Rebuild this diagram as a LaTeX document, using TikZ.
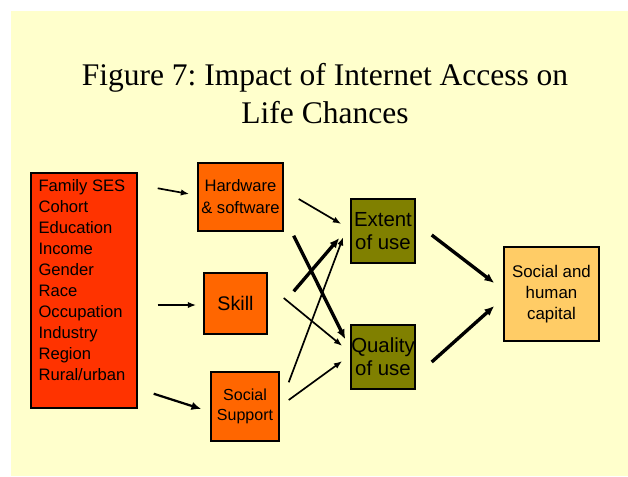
\documentclass[tikz,border=0pt]{standalone}
\usepackage{fontspec}
\setmainfont{Liberation Serif}
\setsansfont{Liberation Sans}
\usetikzlibrary{arrows.meta}
\frenchspacing

\definecolor{bgyellow}{HTML}{FFFFCC}
\definecolor{boxred}{HTML}{FF3300}
\definecolor{boxorange}{HTML}{FF6600}
\definecolor{boxolive}{HTML}{808000}
\definecolor{boxtan}{HTML}{FFCC66}

\begin{document}
\begin{tikzpicture}[x=0.025cm,y=-0.025cm,
    box/.style={draw=black, line width=1pt, inner sep=0pt, align=center, font=\sffamily},
    conn/.style={line width=1.2pt, -{Latex[length=6pt,width=4.5pt]}},
    boldconn/.style={line width=2.4pt, -{Latex[length=7pt,width=6pt]}}]
    \useasboundingbox (0,0) rectangle (628,476);
    \fill[bgyellow] (11,11) rectangle (628,476);
    \node[font=\fontsize{22.4}{27}\selectfont, align=center, inner sep=0pt, anchor=north] (title) at (325,63) {Figure 7: Impact of Internet Access on\\Life Chances};
    % boxes
    \node[box, fill=boxred, minimum width=2.65cm, minimum height=5.875cm] (fam) at (84,290.5) {};
    \node[anchor=north west, inner sep=0pt, align=left, font=\sffamily\fontsize{11.8}{14.9}\selectfont] (famlist) at ([shift={(8,7)}]fam.north west) {Family SES\\Cohort\\Education\\Income\\Gender\\Race\\Occupation\\Industry\\Region\\Rural/urban};
    \node[box, fill=boxorange, minimum width=2.125cm, minimum height=1.7cm, font=\sffamily\fontsize{11.8}{15.6}\selectfont] (hw) at (240.5,197) {Hardware\\\& software};
    \node[box, fill=boxorange, minimum width=1.575cm, minimum height=1.525cm, font=\sffamily\fontsize{14}{16}\selectfont] (sk) at (235.5,303.5) {Skill};
    \node[box, fill=boxorange, minimum width=1.7cm, minimum height=1.725cm, font=\sffamily\fontsize{11.4}{14.2}\selectfont] (ss) at (245,406.5) {Social\\Support};
    \node[box, fill=boxolive, minimum width=1.6cm, minimum height=1.6cm, font=\sffamily\fontsize{14.5}{16.4}\selectfont] (ex) at (383,231) {Extent\\of use};
    \node[box, fill=boxolive, minimum width=1.6cm, minimum height=1.6cm, font=\sffamily\fontsize{14.5}{16.4}\selectfont] (qu) at (383,357) {Quality\\of use};
    \node[box, fill=boxtan, minimum width=2.375cm, minimum height=2.35cm, font=\sffamily\fontsize{12}{15}\selectfont] (cap) at (551.5,294) {Social and\\human\\capital};
    % arrows
    \draw[conn] ([shift={(20,16)}]fam.north east) -- ([shift={(-8,-3)}]hw.west);
    \draw[conn] ([shift={(20,14.5)}]fam.east) -- ([shift={(-7,1.5)}]sk.west);
    \draw[boldconn, line width=1.6pt] ([shift={(16,-15)}]fam.south east) -- ([shift={(-9,2.5)}]ss.west);
    \draw[conn] ([shift={(15,2)}]hw.east) -- ([shift={(-9,-7)}]ex.west);
    \draw[boldconn] ([shift={(10,4)}]hw.south east) -- ([shift={(-5,15)}]qu.north west);
    \draw[boldconn] ([shift={(26,19)}]sk.north east) -- ([shift={(-11,7)}]ex.west);
    \draw[conn] ([shift={(16,-5.5)}]sk.east) -- ([shift={(-8,-11)}]qu.west);
    \draw[conn] ([shift={(9,11)}]ss.north east) -- ([shift={(-7,6)}]ex.west);
    \draw[conn] ([shift={(9,-6.5)}]ss.east) -- ([shift={(-8,4)}]qu.west);
    \draw[boldconn] ([shift={(16,4)}]ex.east) -- ([shift={(-9,-11)}]cap.west);
    \draw[boldconn] ([shift={(16,5)}]qu.east) -- ([shift={(-9,12)}]cap.west);
\end{tikzpicture}
\end{document}
